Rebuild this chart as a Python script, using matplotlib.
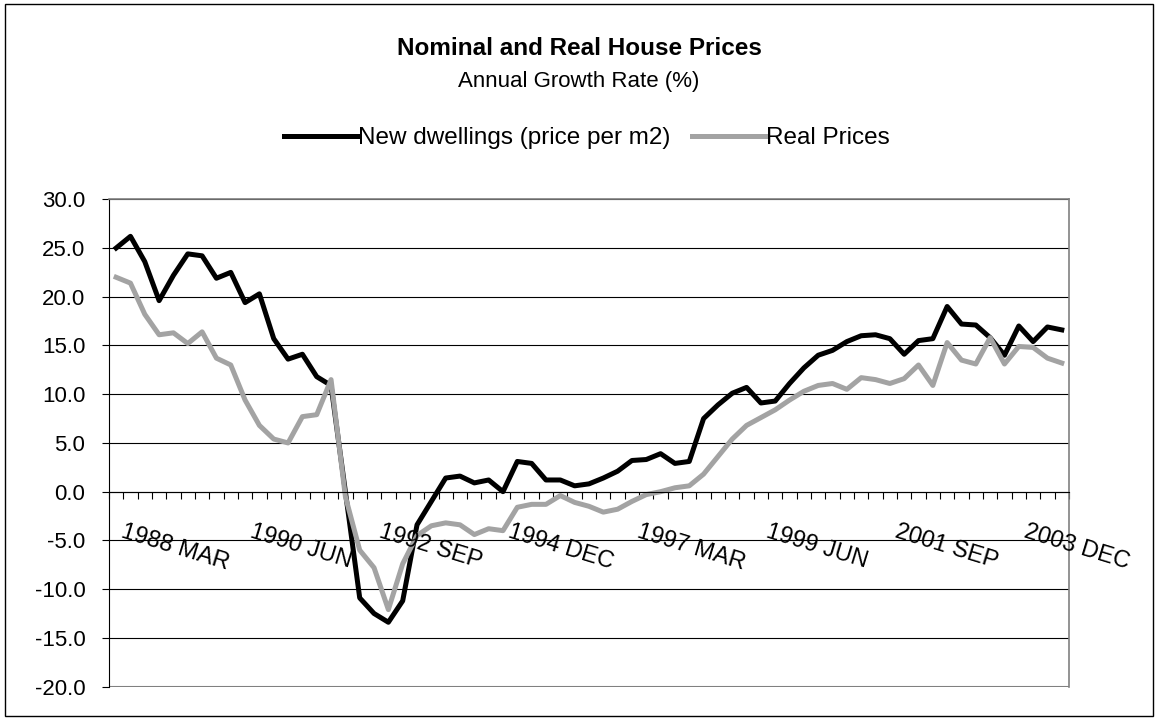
import numpy as np
import matplotlib.pyplot as plt
from matplotlib.patches import Rectangle

plt.rcParams['font.family'] = ['Liberation Sans', 'DejaVu Sans']

# quarterly annual growth rates, 1988 MAR .. 2004 SEP
nominal = [25.0, 26.2, 23.6, 19.6, 22.2, 24.4, 24.2, 21.9, 22.5, 19.4, 20.3, 15.7, 13.6, 14.1, 11.8, 10.9,
           0.0, -10.9, -12.5, -13.4, -11.2, -3.4, -1.0, 1.4, 1.6, 0.9, 1.2, 0.0,
           3.1, 2.9, 1.2, 1.2, 0.6, 0.8, 1.4, 2.1, 3.2, 3.3, 3.9, 2.9, 3.1,
           7.5, 8.9, 10.1, 10.7, 9.1, 9.3, 11.1, 12.7, 14.0, 14.5, 15.4, 16.0, 16.1, 15.7, 14.1, 15.5, 15.7,
           19.0, 17.2, 17.1, 15.8, 14.0, 17.0, 15.4, 16.9, 16.6]
real = [22.0, 21.4, 18.2, 16.1, 16.3, 15.2, 16.4, 13.7, 13.0, 9.4, 6.8, 5.4, 5.0, 7.7, 7.9, 11.5,
        -0.5, -6.0, -7.8, -12.1, -7.4, -4.5, -3.5, -3.2, -3.4, -4.4, -3.8, -4.0,
        -1.6, -1.3, -1.3, -0.4, -1.1, -1.5, -2.1, -1.8, -1.0, -0.3, 0.0, 0.4, 0.6,
        1.8, 3.6, 5.4, 6.8, 7.6, 8.4, 9.4, 10.3, 10.9, 11.1, 10.5, 11.7, 11.5, 11.1, 11.6, 13.0, 10.9,
        15.3, 13.5, 13.1, 15.8, 13.1, 14.9, 14.8, 13.7, 13.2]
label_text = ['1988 MAR', '1990 JUN', '1992 SEP', '1994 DEC', '1997 MAR', '1999 JUN', '2001 SEP', '2003 DEC']
label_pos = [0, 9, 18, 27, 36, 45, 54, 63]
yticks = [30, 25, 20, 15, 10, 5, 0, -5, -10, -15, -20]

fig = plt.figure(figsize=(11.58, 7.2), dpi=100)
ax = fig.add_axes([0.0941, 0.0464, 0.829, 0.6768])

x = np.arange(len(nominal))
ax.plot(x, nominal, color='black', lw=3.6, solid_joinstyle='round', label='New dwellings (price per m2)')
ax.plot(x, real, color='#a3a3a3', lw=3.6, solid_joinstyle='round', label='Real Prices')

ax.set_xlim(-0.5, len(nominal) - 0.5)
ax.set_ylim(-20, 30)
ax.set_yticks(yticks)
ax.set_yticklabels(['%.1f' % v for v in yticks])
ax.yaxis.grid(True, color='black', lw=0.8)
ax.set_axisbelow(True)

ax.set_xticks(np.arange(-0.5, len(nominal), 1))
ax.set_xticklabels([])
ax.spines['bottom'].set_position(('data', 0))
ax.spines['bottom'].set_color('black')
ax.spines['left'].set_color('black')
for s in ['top', 'right']:
    ax.spines[s].set_color('#808080')
    ax.spines[s].set_linewidth(1.2)
ax.axhline(-20, color='#808080', lw=1.5, zorder=2.5)
ax.tick_params(axis='x', direction='out', length=5, width=0.8)
ax.tick_params(axis='y', direction='out', length=5, width=0.8, pad=12, labelsize=16)

for p, t in zip(label_pos, label_text):
    ax.text(p + 0.63, -3.0, t, rotation=-17, rotation_mode='anchor',
            ha='left', va='top', fontsize=17, clip_on=False)

fig.text(0.5, 0.932, 'Nominal and Real House Prices', ha='center', va='center',
         fontweight='bold', fontsize=17.5)
fig.text(0.5, 0.887, 'Annual Growth Rate (%)', ha='center', va='center', fontsize=16)
fig.legend(loc='center', bbox_to_anchor=(0.507, 0.808), ncol=2, frameon=False,
           handlelength=3.0, handletextpad=0.05, columnspacing=0.9, fontsize=17.5)

fig.patches.append(Rectangle((0.004, 0.006), 0.992, 0.988, transform=fig.transFigure,
                             fill=False, edgecolor='black', lw=1))

fig.savefig('out.png', dpi=100)
